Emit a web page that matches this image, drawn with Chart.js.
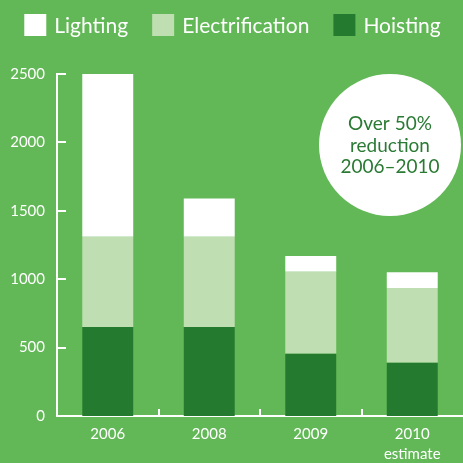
<!DOCTYPE html>
<html><head><meta charset="utf-8">
<script src="https://cdn.jsdelivr.net/npm/chart.js@4"></script>
<style>html,body{margin:0;padding:0;background:#62b856;overflow:hidden}</style>
</head><body>
<canvas id="c" width="463" height="463" style="display:block;width:463px;height:463px"></canvas>
<script>
const categories = [['2006'], ['2008'], ['2009'], ['2010', 'estimate']];
const seriesNames = ['Hoisting', 'Electrification', 'Lighting'];
const hoisting = [650, 650, 455, 390];
const electrification = [660, 660, 600, 545];
const lighting = [1190, 280, 115, 115];
const yTickValues = [0, 500, 1000, 1500, 2000, 2500];
const calloutLines = ['Over 50%', 'reduction', '2006\u20132010'];

const BG = '#62b856', DARK = '#247b2f', LIGHT = '#bfdfb2', WHITE = '#ffffff';
const FONT = 'Lato, "Open Sans", sans-serif';

const decor = {
  id: 'decor',
  beforeDraw(chart) {
    const ctx = chart.ctx;
    ctx.save();
    ctx.fillStyle = BG;
    ctx.fillRect(0, 0, chart.width, chart.height);
    ctx.restore();
  },
  afterDraw(chart) {
    const ctx = chart.ctx, xs = chart.scales.x, ys = chart.scales.y, a = chart.chartArea;
    ctx.save();
    ctx.strokeStyle = WHITE; ctx.lineWidth = 2;
    ys.ticks.forEach(t => {
      const y = Math.round(ys.getPixelForValue(t.value));
      ctx.beginPath(); ctx.moveTo(a.left, y); ctx.lineTo(a.left + 9, y); ctx.stroke();
    });
    for (let i = 1; i < categories.length; i++) {
      const x = Math.round((xs.getPixelForTick(i - 1) + xs.getPixelForTick(i)) / 2);
      ctx.beginPath(); ctx.moveTo(x, a.bottom); ctx.lineTo(x, a.bottom - 7); ctx.stroke();
    }
    ctx.font = '21px ' + FONT;
    ctx.textBaseline = 'middle'; ctx.textAlign = 'left';
    const items = chart.data.datasets.slice().reverse();
    const box = 22, gapText = 8, gapItem = 24;
    let total = 0;
    const widths = items.map(d => ctx.measureText(d.label).width);
    widths.forEach((w, i) => { total += box + gapText + w + (i < items.length - 1 ? gapItem : 0); });
    let x = (chart.width - total) / 2 + 1;
    items.forEach((d, i) => {
      ctx.fillStyle = d.backgroundColor;
      ctx.fillRect(x, 14, box, box);
      ctx.fillStyle = WHITE;
      ctx.fillText(d.label, x + box + gapText, 26);
      x += box + gapText + widths[i] + gapItem;
    });
    ctx.fillStyle = WHITE;
    ctx.beginPath(); ctx.arc(390, 145, 71, 0, Math.PI * 2); ctx.fill();
    ctx.fillStyle = '#2a7a34'; ctx.textAlign = 'center';
    ctx.font = '19px ' + FONT;
    calloutLines.forEach((l, i) => ctx.fillText(l, 390, 124 + i * 21.5));
    ctx.restore();
  }
};

new Chart(document.getElementById('c'), {
  type: 'bar',
  data: {
    labels: categories,
    datasets: [
      { label: seriesNames[0], data: hoisting, backgroundColor: DARK },
      { label: seriesNames[1], data: electrification, backgroundColor: LIGHT },
      { label: seriesNames[2], data: lighting, backgroundColor: WHITE }
    ]
  },
  options: {
    responsive: false,
    animation: false,
    devicePixelRatio: 1,
    categoryPercentage: 1,
    barPercentage: 0.502,
    layout: { padding: { top: 74, left: 0, right: 0, bottom: 0 } },
    plugins: { legend: { display: false }, tooltip: { enabled: false } },
    scales: {
      x: {
        stacked: true,
        grid: { display: false, drawTicks: false },
        border: { color: WHITE, width: 2 },
        ticks: { color: WHITE, font: { family: FONT, size: 15, lineHeight: 1.35 }, padding: 8 },
        afterFit(s) { s.height = 47; }
      },
      y: {
        stacked: true, min: 0, max: 2500,
        afterBuildTicks(s) { s.ticks = yTickValues.map(v => ({ value: v })); },
        grid: { display: false, drawTicks: false },
        border: { color: WHITE, width: 2 },
        ticks: { color: WHITE, font: { family: FONT, size: 15 }, padding: 12, callback: v => String(v) },
        afterFit(s) { s.width = 57; }
      }
    }
  },
  plugins: [decor]
});
</script>
</body></html>
